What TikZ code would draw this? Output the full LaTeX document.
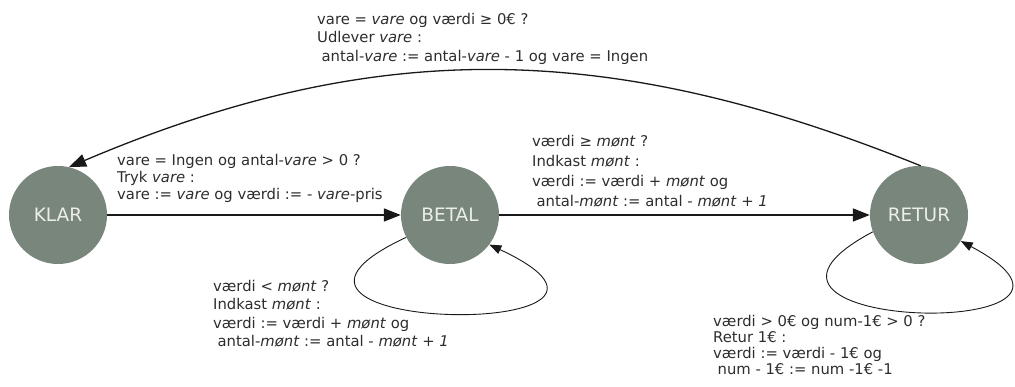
\documentclass[tikz,border=0pt]{standalone}
\usepackage{fontspec}
\setmainfont{DejaVu Sans}
\usepackage{tikz}
\usetikzlibrary{arrows.meta}

\definecolor{stategray}{RGB}{121,134,124}
\definecolor{statetext}{RGB}{236,238,232}
\definecolor{lbltext}{RGB}{45,45,45}
\definecolor{linegray}{RGB}{25,25,25}

\tikzset{
    state/.style={circle, fill=stategray, minimum size=98pt, inner sep=0pt,
        text=statetext, font=\fontsize{18.5}{20}\selectfont},
    lbl/.style={anchor=north west, align=left, inner sep=0pt, text=lbltext,
        font=\fontsize{14.8}{18.5}\selectfont},
    move/.style={draw=linegray, line width=1.6pt, -{Triangle[length=17pt,width=13pt]}},
    selfloop/.style={draw=linegray, line width=0.9pt, -{Triangle[length=12pt,width=9pt]}}
}

\begin{document}
\begin{tikzpicture}[x=1pt, y=1pt]
    \useasboundingbox (0,0) rectangle (1015,387);

    \node [state] (klar)  at (58,172)  {KLAR};
    \node [state] (betal) at (450,172) {BETAL};
    \node [state] (retur) at (919,172) {RETUR};

    \draw [move] (klar) -- (betal);
    \draw [move] (betal) -- (retur);
    \draw [move, line width=1.3pt] (retur.88) to[out=158, in=23, distance=335pt] (klar.77);
    \draw [selfloop] (betal.207) to[out=205, in=-25, distance=230pt] (betal.323);
    \draw [selfloop] (retur.200) to[out=208, in=-28, distance=215pt] (retur.328);

    \node [lbl] (udlever) at (317,374) {vare = \textit{vare} og værdi ≥ 0€ ?\\
        Udlever \textit{vare} :\\
        \hspace*{0.3em}antal-\textit{vare} := antal-\textit{vare} - 1 og vare = Ingen};
    \node [lbl, font=\fontsize{14.8}{17}\selectfont] (tryk) at (117,233)
        {vare = Ingen og antal-\textit{vare} > 0 ?\\
        Tryk \textit{vare} :\\
        vare := \textit{vare} og værdi := - \textit{vare}-pris};
    \node [lbl, font=\fontsize{14.8}{20}\selectfont] (indkast) at (532,252)
        {værdi ≥ \textit{mønt} ?\\
        Indkast \textit{mønt} :\\
        værdi := værdi + \textit{mønt} og\\
        \hspace*{0.3em}antal-\textit{mønt} := antal - \textit{mønt} + \textit{1}};
    \node [lbl] (betalmere) at (213,107) {værdi < \textit{mønt} ?\\
        Indkast \textit{mønt} :\\
        værdi := værdi + \textit{mønt} og\\
        \hspace*{0.3em}antal-\textit{mønt} := antal - \textit{mønt} + \textit{1}};
    \node [lbl, font=\fontsize{14.8}{16}\selectfont] (returner) at (713,72)
        {værdi > 0€ og num-1€ > 0 ?\\
        Retur 1€ :\\
        værdi := værdi - 1€ og\\
        \hspace*{0.3em}num - 1€ := num -1€ -1};
\end{tikzpicture}
\end{document}
